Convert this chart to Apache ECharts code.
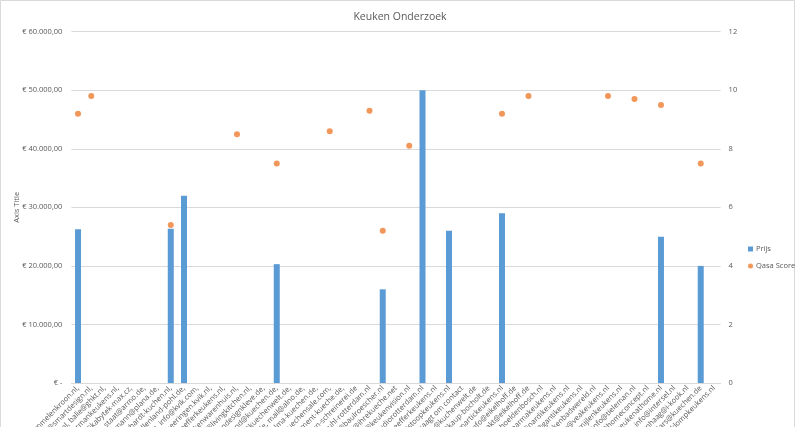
<!DOCTYPE html>
<html>
<head>
<meta charset="utf-8">
<script src="https://cdn.jsdelivr.net/npm/echarts@6/dist/echarts.min.js"></script>
<style>html,body{margin:0;padding:0;background:#fff}#c{width:800px;height:427px}</style>
</head>
<body>
<div id="c"></div>
<script>
const categories = [
  "info@hommelenkroon.nl,","info@smartdesign.nl,","info@ghkt.nl, balie@ghkt.nl,","info@veermankeukens.nl,",
  "info@kabytek-max.cz,","info.staat@armo.de,","hermann@plana.de,","info@eberhardt-kuchen.nl,",
  "info@mollenland-pohl.de,","kontakt, info@kvik.com,","info@heeringen.kvik.nl,","info@scheefferkeukens.nl,",
  "info@keukenwarenhuis.nl,","info@livingkitchen.nl,","info@kuechendesignkleve.de,","bernd@kuechen.de,",
  "info@kuechenwelt.de,","info@alno.de, mail@alno.de,","info@alma-kuechen.de,","info@kuechensale.com,",
  "info@moment-kueche.de,","info@kuechen-schreinerei.de","info@bruhl-rotterdam.nl","info@baulroescher.nl",
  "info@ihrekueche.net","info@keukenvision.nl","info@studiorotterdam.nl","info@scheefferkeukens.nl",
  "info@stoopkeukens.nl","Website vraagt om contact","info@kuchenwelt.de","info@kaup-bocholt.de",
  "info@smartickeukens.nl","info@eikelhoff.de","kontakt@eikelhoff.de","info@keukenhoeldenbosch.nl",
  "info@parmakeukens.nl","info@nardikeukens.nl","info@gantikeukens.nl","info@keukenbadwereld.nl",
  "info@veakeukens.nl","info@mijlenkeukens.nl","info@tieleman.nl","info@homeconcept.nl",
  "info@keukenathome.nl","info@intersel.nl","denhaag@i-kook.nl","lars@kuechen.de","info@klompkeukens.nl"
];
const prijs = [
  26250,null,null,null,null,null,null,26350,32000,null,null,null,null,null,null,20300,
  null,null,null,null,null,null,null,16000,null,null,50000,null,26000,null,null,null,
  29000,null,null,null,null,null,null,null,null,null,null,null,25000,null,null,20000,null
];
const qasaScore = [
  9.2,9.8,null,null,null,null,null,5.4,null,null,null,null,8.5,null,null,7.5,
  null,null,null,8.6,null,null,9.3,5.2,null,8.1,null,null,null,null,null,null,
  9.2,null,9.8,null,null,null,null,null,9.8,null,9.7,null,9.5,null,null,7.5,null
];
const leftTicks = [0, 60000, 10000];
const rightTicks = [0, 12, 2];

function euro(v){
  if (v === 0) return '€ -';
  const s = Math.round(v).toString().replace(/\B(?=(\d{3})+(?!\d))/g, '.');
  return '€ ' + s + ',00';
}
const FONT = 'Open Sans';
const FS = 7.5;
const chart = echarts.init(document.getElementById('c'), null, {renderer:'canvas'});
chart.setOption({
  animation:false,
  backgroundColor:'#fff',
  textStyle:{fontFamily:FONT},
  title:{text:'Keuken Onderzoek',left:'center',top:7,textStyle:{fontFamily:FONT,fontSize:10.5,fontWeight:'normal',color:'#595959'}},
  graphic:[{type:'rect',shape:{x:0.5,y:0.5,width:794,height:440},style:{fill:'none',stroke:'#D9D9D9',lineWidth:1},silent:true}],
  legend:{orient:'vertical',left:743,top:240,itemWidth:5,itemHeight:5,itemGap:9,
    textStyle:{fontFamily:FONT,fontSize:FS,color:'#595959',padding:[0,0,0,-2]},
    data:[{name:'Prijs',icon:'rect'},{name:'Qasa Score',icon:'circle'}]},
  grid:{left:71.4,right:79.4,top:31.7,bottom:44,containLabel:false,outerBoundsMode:'none'},
  xAxis:{type:'category',data:categories,boundaryGap:true,
    axisLine:{lineStyle:{color:'#D9D9D9'}},axisTick:{show:false},
    axisLabel:{interval:0,rotate:45,margin:4,fontFamily:FONT,fontSize:FS,color:'#595959'}},
  yAxis:[
    {type:'value',min:leftTicks[0],max:leftTicks[1],interval:leftTicks[2],name:'Axis Title',nameLocation:'middle',nameGap:51,nameMoveOverlap:false,
      nameTextStyle:{fontFamily:FONT,fontSize:FS,color:'#595959'},
      axisLine:{show:false},axisTick:{show:false},
      splitLine:{lineStyle:{color:'#D9D9D9'}},
      axisLabel:{formatter:euro,margin:9,fontFamily:FONT,fontSize:FS,color:'#595959'}},
    {type:'value',min:rightTicks[0],max:rightTicks[1],interval:rightTicks[2],position:'right',
      axisLine:{show:false},axisTick:{show:false},splitLine:{show:false},
      axisLabel:{margin:8,fontFamily:FONT,fontSize:FS,color:'#595959'}}
  ],
  series:[
    {name:'Prijs',type:'bar',data:prijs,barWidth:6,itemStyle:{color:'#5B9BD5'},yAxisIndex:0},
    {name:'Qasa Score',type:'scatter',data:qasaScore,yAxisIndex:1,symbol:'circle',symbolSize:6,itemStyle:{color:'#ED7D31'}}
  ]
});
</script>
</body>
</html>
